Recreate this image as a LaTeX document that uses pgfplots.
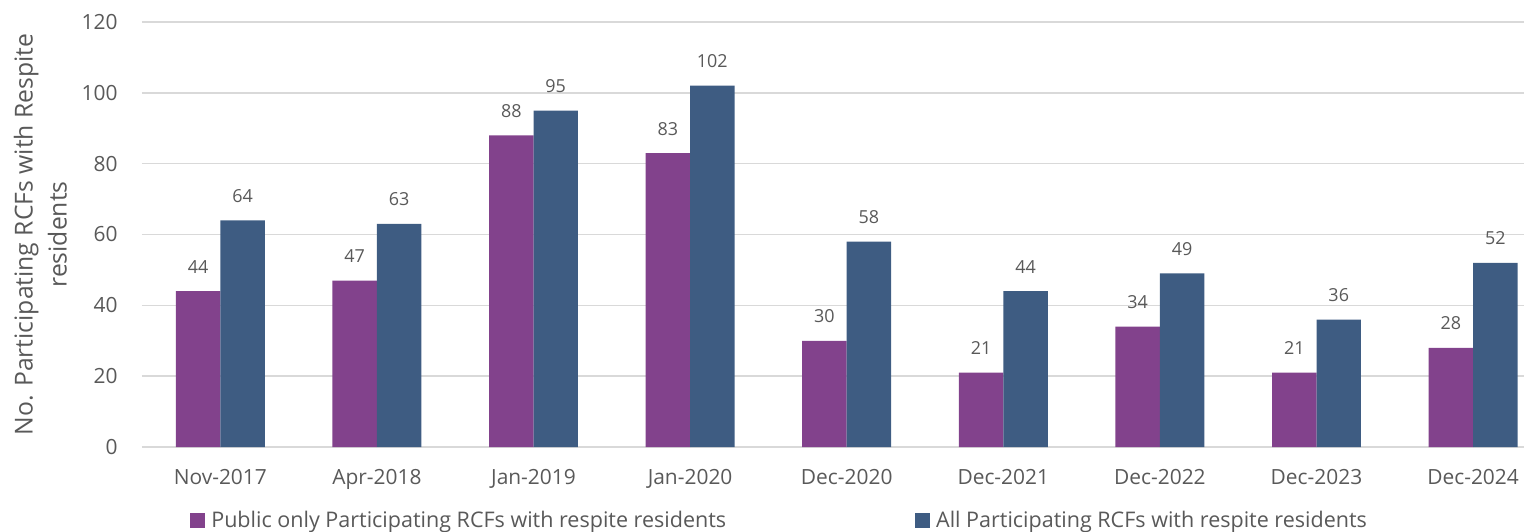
\documentclass[border=0pt]{standalone}
\usepackage{fontspec}
\setmainfont{Open Sans}
\usepackage{pgfplots}
\pgfplotsset{compat=1.18}

\definecolor{pubc}{RGB}{130,66,140}
\definecolor{allc}{RGB}{62,92,130}
\definecolor{txt}{RGB}{89,89,89}
\definecolor{grd}{RGB}{217,217,217}

\begin{document}
\begin{tikzpicture}
\begin{axis}[
    scale only axis,
    width=691bp, height=212.5bp,
    ybar=0pt, bar width=0.284,
    xmin=-0.5, xmax=8.325,
    ymin=0, ymax=120,
    ytick={0,20,...,120},
    xtick=data,
    xticklabels={Nov-2017,Apr-2018,Jan-2019,Jan-2020,Dec-2020,Dec-2021,Dec-2022,Dec-2023,Dec-2024},
    major tick length=0pt,
    axis line style={draw=none},
    ymajorgrids=true,
    grid style={grd, line width=0.75bp},
    extra y ticks={0},
    extra y tick labels={},
    extra y tick style={grid style={grd, line width=0.9bp}},
    tick label style={font=\fontsize{10.5}{12}\selectfont, text=txt},
    /pgf/number format/assume math mode=true,
    xticklabel style={anchor=base, yshift=-18.5bp, inner sep=0pt},
    yticklabel style={anchor=east, xshift=-12bp, inner sep=0pt},
    every axis y label/.style={at={(axis description cs:-0.0735,0.5)}, rotate=90, anchor=center,
        align=center, font=\fontsize{12.4}{17}\selectfont, text=txt},
    ylabel={No. Participating RCFs with Respite\\residents},
    nodes near coords,
    every node near coord/.append style={font=\fontsize{9}{10}\selectfont, text=txt,
        anchor=base, inner sep=0pt, yshift=9bp},
    legend style={at={(0.0347,-0.174)}, anchor=west, draw=none, inner sep=0pt,
        font=\fontsize{10.8}{12}\selectfont, text=txt,
        /tikz/every odd column/.append style={column sep=1bp},
        /tikz/every even column/.append style={column sep=92.5bp}},
    legend columns=2,
    legend image code/.code={\fill[#1,draw=none] (0bp,-3.75bp) rectangle (7.5bp,3.75bp);},
]
\addplot[fill=pubc, draw=none] coordinates {
(0,44) (1,47) (2,88) (3,83) (4,30) (5,21) (6,34) (7,21) (8,28)};
\addlegendentry{Public only Participating RCFs with respite residents}
\addplot[fill=allc, draw=none] coordinates {
(0,64) (1,63) (2,95) (3,102) (4,58) (5,44) (6,49) (7,36) (8,52)};
\addlegendentry{All Participating RCFs with respite residents}
\end{axis}
\pgfresetboundingbox
\path[use as bounding box] (-71bp,-42.5bp) rectangle (691bp,223.5bp);
\end{tikzpicture}
\end{document}
